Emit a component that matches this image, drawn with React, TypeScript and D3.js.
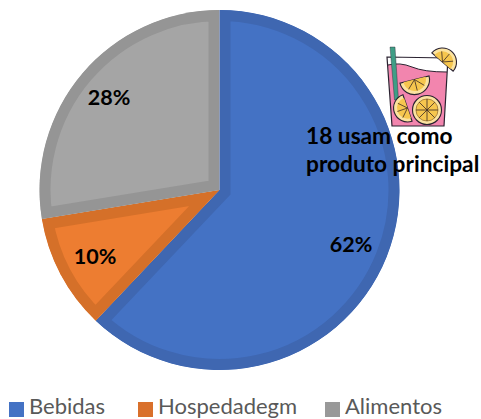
import React from 'react';
import * as d3 from 'd3';

const categories = ['Bebidas', 'Hospedadegm', 'Alimentos'];
const counts = [18, 3, 8];
const percentLabels = ['62%', '10%', '28%'];
const fills = ['#4472C4', '#ED7D31', '#A5A5A5'];
const edges = ['#3F67B1', '#D57029', '#959595'];
const labelPositions: [number, number][] = [[351, 244], [95, 256], [109, 97]];
const legendX = [9, 138, 325];
const noteLines = ['18 usam como', 'produto principal'];

const FONT = 'Lato, Carlito, "Open Sans", sans-serif';
const rad = (d: number) => (d * Math.PI) / 180;

function Lemon({ cx, cy, r }: { cx: number; cy: number; r: number }) {
  const spokes = d3.range(8).map((i) => (i * Math.PI) / 4);
  return (
    <g>
      <circle cx={cx} cy={cy} r={r} fill="#FBE3A0" stroke="#2A2230" strokeWidth={1.1} />
      <circle cx={cx} cy={cy} r={r * 0.76} fill="#F6C64E" stroke="#7A5520" strokeWidth={0.6} />
      {spokes.map((a, i) => (
        <line key={i} x1={cx} y1={cy} x2={cx + Math.cos(a) * r * 0.76} y2={cy + Math.sin(a) * r * 0.76} stroke="#3A2A25" strokeWidth={0.8} />
      ))}
    </g>
  );
}

function Slice({ cx, cy, r, startDeg }: { cx: number; cy: number; r: number; startDeg: number }) {
  const start = rad(startDeg);
  const end = rad(startDeg + 180);
  const spokes = d3.range(1, 4).map((i) => start + ((end - start) * i) / 4);
  return (
    <g transform={`translate(${cx},${cy})`}>
      <path d={(d3.arc()({ innerRadius: 0, outerRadius: r, startAngle: start, endAngle: end }) as string) + 'Z'} fill="#FBE3A0" stroke="#2A2230" strokeWidth={1.1} />
      <path d={d3.arc()({ innerRadius: 0, outerRadius: r * 0.76, startAngle: start, endAngle: end }) as string} fill="#F6C64E" />
      {spokes.map((s, i) => (
        <line key={i} x1={0} y1={0} x2={Math.sin(s) * r * 0.76} y2={-Math.cos(s) * r * 0.76} stroke="#3A2A25" strokeWidth={0.8} />
      ))}
    </g>
  );
}

function DrinkIcon() {
  return (
    <g>
      <path d="M388 65 Q400 62 412 67 T447 72 L444 126 L392 126 Z" fill="#F285AE" />
      <path d="M388 65 Q400 62 412 67 T447 72" fill="none" stroke="#2A2230" strokeWidth={1} />
      <path d="M387 57 L448 58 L444 126 L392 126 Z" fill="none" stroke="#2A2230" strokeWidth={1.2} />
      <path d="M390 47 L395 47 L398.5 100 L394.5 100 Z" fill="#3F9E86" stroke="#2A2230" strokeWidth={0.4} />
      <Slice cx={442.5} cy={62} r={14} startDeg={-49.4} />
      <Slice cx={414.5} cy={79.5} r={15} startDeg={76} />
      <Slice cx={407.5} cy={108} r={14} startDeg={161} />
      <Lemon cx={427} cy={110} r={14.5} />
    </g>
  );
}

export default function App() {
  const cx = 219.5;
  const cy = 190;
  const r = 180;
  const pie = d3.pie<number>().sort(null)(counts);
  const arc = d3.arc<d3.PieArcDatum<number>>().innerRadius(0).outerRadius(r);
  return (
    <svg width={481} height={419} style={{ position: 'absolute', left: 0, top: 0 }} fontFamily={FONT}>
      <rect width={481} height={419} fill="#fff" />
      <defs>
        {pie.map((p, i) => (
          <clipPath id={`clip-${i}`} key={i}>
            <path d={arc(p) as string} />
          </clipPath>
        ))}
      </defs>
      <g transform={`translate(${cx},${cy})`}>
        {pie.map((p, i) => (
          <g key={i} clipPath={`url(#clip-${i})`}>
            <path d={arc(p) as string} fill={fills[i]} stroke={edges[i]} strokeWidth={22} strokeLinejoin="miter" />
          </g>
        ))}
      </g>
      {percentLabels.map((t, i) => (
        <text key={i} x={labelPositions[i][0]} y={labelPositions[i][1]} textAnchor="middle" dominantBaseline="central" fontSize={21.5} fontWeight={700} fill="#000">{t}</text>
      ))}
      <DrinkIcon />
      {noteLines.map((t, i) => (
        <text key={i} x={306} y={144 + i * 28} fontSize={22.7} fontWeight={700} fill="#000">{t}</text>
      ))}
      {categories.map((c, i) => (
        <g key={i}>
          <rect x={legendX[i]} y={402} width={15} height={15} fill={i === 1 ? '#D9702B' : i === 2 ? '#999999' : fills[0]} />
          <text x={legendX[i] + 20} y={414} fontSize={22} fill="#595959">{c}</text>
        </g>
      ))}
    </svg>
  );
}
